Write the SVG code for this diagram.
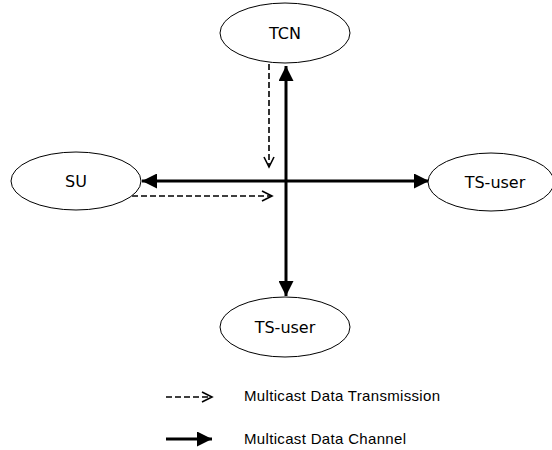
<svg xmlns="http://www.w3.org/2000/svg" width="552" height="450" viewBox="0 0 552 450">
<defs>
<marker id="solid" markerWidth="5" markerHeight="5" refX="5" refY="2.5" orient="auto" markerUnits="strokeWidth"><path d="M0,0 L5,2.5 L0,5 Z" fill="#000"/></marker>
<marker id="open" markerWidth="14" markerHeight="14" refX="11" refY="7" orient="auto" markerUnits="userSpaceOnUse"><path d="M1,2 L11,7 L1,12" fill="none" stroke="#000" stroke-width="1.6"/></marker>
</defs>
<style>
.node ellipse{fill:#fff;stroke:#000;stroke-width:1}
.node text{font-family:"DejaVu Sans",Verdana,sans-serif;font-size:16px;text-anchor:middle;fill:#000}
.thick{stroke:#000;stroke-width:3;fill:none}
.dash{stroke:#000;stroke-width:1.6;fill:none;stroke-dasharray:6,3}
.leg{font-family:"Liberation Sans",Arial,sans-serif;font-size:15px;fill:#000}
</style>
<rect width="552" height="450" fill="#fff"/>
<g id="connectors">
<line class="thick" x1="286" y1="181" x2="286" y2="66" marker-end="url(#solid)"/>
<line class="thick" x1="286" y1="181" x2="286" y2="296" marker-end="url(#solid)"/>
<line class="thick" x1="286" y1="181" x2="142" y2="181" marker-end="url(#solid)"/>
<line class="thick" x1="286" y1="181" x2="429" y2="181" marker-end="url(#solid)"/>
<line class="dash" x1="269" y1="64" x2="269" y2="167" marker-end="url(#open)"/>
<line class="dash" x1="132" y1="196" x2="272" y2="196" marker-end="url(#open)"/>
</g>
<g id="TCN" class="node"><ellipse cx="285" cy="33" rx="65" ry="30"/><text x="285" y="39">TCN</text></g>
<g id="SU" class="node"><ellipse cx="76" cy="181" rx="65" ry="29"/><text x="76" y="187">SU</text></g>
<g id="TS-user-right" class="node"><ellipse cx="491" cy="182" rx="63" ry="29"/><text x="495" y="188">TS-user</text></g>
<g id="TS-user-bottom" class="node"><ellipse cx="285" cy="327" rx="65" ry="30"/><text x="285" y="333">TS-user</text></g>
<g id="legend">
<line class="dash" x1="166" y1="397" x2="212" y2="397" marker-end="url(#open)"/>
<text class="leg" x="244" y="401" textLength="196">Multicast Data Transmission</text>
<line class="thick" x1="166" y1="439" x2="212" y2="439" marker-end="url(#solid)"/>
<text class="leg" x="244" y="444" textLength="162">Multicast Data Channel</text>
</g>
</svg>
